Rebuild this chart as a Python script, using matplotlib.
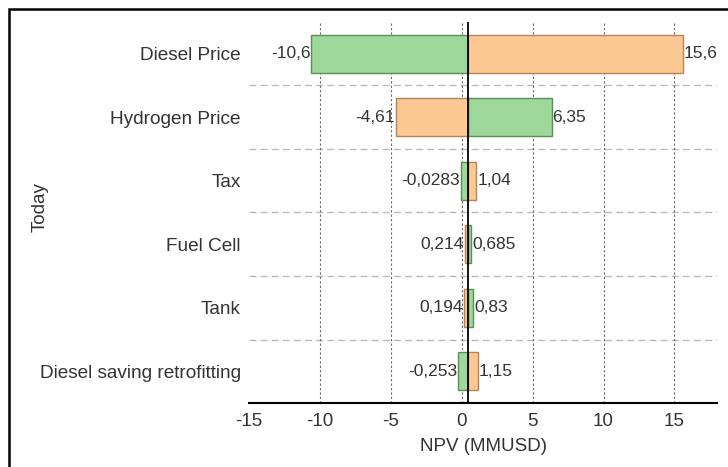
#!/usr/bin/env python3
import matplotlib
matplotlib.use('Agg')
import matplotlib.pyplot as plt
from matplotlib.patches import Rectangle

categories = ['Diesel Price', 'Hydrogen Price', 'Tax', 'Fuel Cell', 'Tank',
              'Diesel saving retrofitting']
green_values = [-10.6, 6.35, -0.0283, 0.685, 0.83, -0.253]
orange_values = [15.6, -4.61, 1.04, 0.214, 0.194, 1.15]
base_value = 0.42
xticks = [-15, -10, -5, 0, 5, 10, 15]

GREEN = '#9fd89b'
GREEN_EDGE = '#5b8f58'
ORANGE = '#fbc894'
ORANGE_EDGE = '#b5835a'
TEXT = '#333333'


def fmt(v):
    return '{:.3g}'.format(v).replace('.', ',')


def main():
    plt.rcParams['font.family'] = ['Liberation Sans', 'DejaVu Sans']
    fig = plt.figure(figsize=(7.28, 4.67), dpi=100)
    ax = fig.add_axes([249 / 728, 1 - 403 / 467, (717 - 249) / 728, (403 - 22) / 467])

    y = list(range(len(categories)))
    for i in y:
        g = green_values[i]
        o = orange_values[i]
        ax.barh(i, g - base_value, left=base_value, height=0.6, color=GREEN,
                edgecolor=GREEN_EDGE, linewidth=1, zorder=3)
        ax.barh(i, o - base_value, left=base_value, height=0.6, color=ORANGE,
                edgecolor=ORANGE_EDGE, linewidth=1, zorder=3)
        lo, hi = min(g, o), max(g, o)
        ax.text(lo - 0.08, i, fmt(lo), ha='right', va='center', fontsize=12.5,
                color=TEXT, zorder=4)
        ax.text(hi + 0.05, i, fmt(hi), ha='left', va='center', fontsize=12.5,
                color=TEXT, zorder=4)

    ax.axvline(base_value, color='black', linewidth=1.3, zorder=5)
    for k in range(len(categories) - 1):
        ax.axhline(k + 0.5, color='#bbbbbb', linestyle=(0, (5, 3)),
                   linewidth=1, zorder=1)
    for t in xticks[1:]:
        ax.axvline(t, color='#666666', linestyle=(0, (2, 2)), linewidth=0.8,
                   zorder=1)

    ax.set_xlim(-15, 18)
    ax.set_ylim(len(categories) - 0.5, -0.5)
    ax.set_xticks(xticks)
    ax.set_xticklabels([str(t) for t in xticks], fontsize=13.5, color=TEXT)
    ax.set_yticks(y)
    ax.set_yticklabels(categories, fontsize=13.7, color=TEXT)
    ax.tick_params(axis='y', length=0, pad=6)
    ax.tick_params(axis='x', length=0, pad=7)
    for s in ['top', 'right', 'left']:
        ax.spines[s].set_visible(False)
    ax.spines['bottom'].set_linewidth(1.5)
    ax.set_xlabel('NPV (MMUSD)', fontsize=13.5, color=TEXT, labelpad=6)
    fig.text(40 / 728, 1 - 207 / 467, 'Today', rotation=90, ha='center',
             va='center', fontsize=13.5, color=TEXT)

    fig.patches.append(Rectangle((9 / 728, -0.1), 1.2, 1 - 9 / 467 + 0.1,
                                 transform=fig.transFigure, fill=False,
                                 edgecolor='black', linewidth=1.8))

    plt.savefig('out.png', dpi=100)


if __name__ == '__main__':
    main()
